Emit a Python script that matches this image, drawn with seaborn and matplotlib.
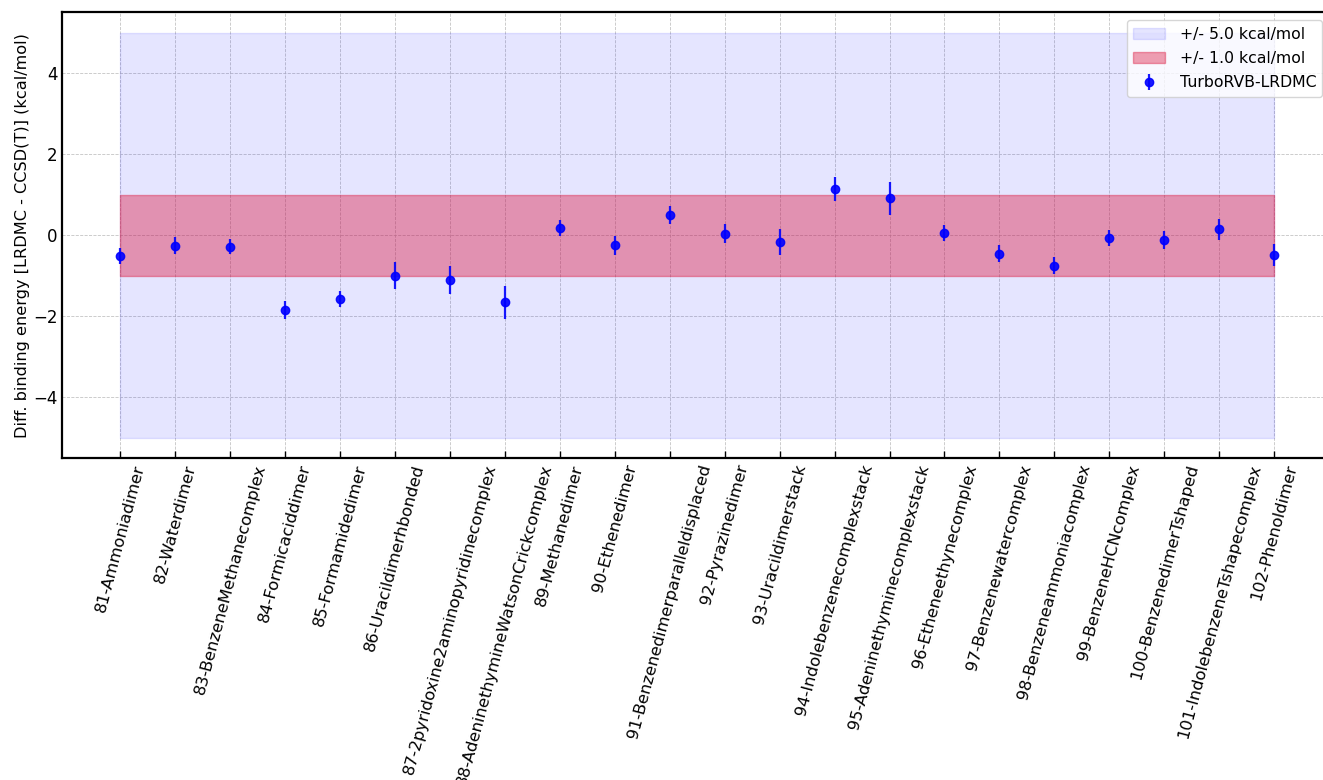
import matplotlib
matplotlib.use("Agg")
import matplotlib.pyplot as plt
import seaborn as sns
import numpy as np
import pandas as pd

systems = [
    "81-Ammoniadimer", "82-Waterdimer", "83-BenzeneMethanecomplex",
    "84-Formicaciddimer", "85-Formamidedimer", "86-Uracildimerhbonded",
    "87-2pyridoxine2aminopyridinecomplex", "88-AdeninethymineWatsonCrickcomplex",
    "89-Methanedimer", "90-Ethenedimer", "91-Benzenedimerparalleldisplaced",
    "92-Pyrazinedimer", "93-Uracildimerstack", "94-Indolebenzenecomplexstack",
    "95-Adeninethyminecomplexstack", "96-Etheneethynecomplex",
    "97-Benzenewatercomplex", "98-Benzeneammoniacomplex", "99-BenzeneHCNcomplex",
    "100-BenzenedimerTshaped", "101-IndolebenzeneTshapecomplex", "102-Phenoldimer",
]
diff = [-0.52, -0.26, -0.28, -1.85, -1.58, -1.00, -1.10, -1.66, 0.17, -0.25, 0.50,
        0.04, -0.17, 1.14, 0.91, 0.06, -0.46, -0.75, -0.06, -0.11, 0.15, -0.49]
err = [0.20, 0.21, 0.18, 0.23, 0.20, 0.33, 0.35, 0.40, 0.20, 0.23, 0.23,
       0.24, 0.33, 0.29, 0.40, 0.20, 0.21, 0.20, 0.20, 0.22, 0.26, 0.28]

df = pd.DataFrame({"system": systems, "diff": diff, "err": err})
df["x"] = np.arange(len(df))

sns.set_style("white", {"text.color": "black", "axes.labelcolor": "black",
                        "xtick.color": "black", "ytick.color": "black",
                        "axes.edgecolor": "black"})
plt.rcParams["font.family"] = ["DejaVu Sans"]

fig = plt.figure(figsize=(13.23, 7.8), dpi=100)
# axes runs slightly past the right edge of the figure, as in the original
ax = fig.add_axes([0.047, 0.413, 0.9585, 0.571])

x0, x1 = df["x"].min(), df["x"].max()
ax.fill_between([x0, x1], -5.0, 5.0, color="blue", alpha=0.1, label="+/- 5.0 kcal/mol")
ax.fill_between([x0, x1], -1.0, 1.0, color="crimson", alpha=0.4, label="+/- 1.0 kcal/mol")

ax.errorbar(df["x"], df["diff"], yerr=df["err"], fmt="o", color="blue", alpha=0.9,
            markersize=6, elinewidth=1.6, capsize=0, label="TurboRVB-LRDMC", zorder=3)

ax.set_xticks(df["x"])
ax.set_xticklabels(df["system"], rotation=75, ha="center", fontsize=11.8)
ax.set_xlim(-1.055, 22.02)
ax.set_ylim(-5.5, 5.5)
ax.set_yticks([-4, -2, 0, 2, 4])
ax.tick_params(axis="y", labelsize=12, direction="in", length=5, width=1)
ax.tick_params(axis="x", direction="in", length=5, width=1, bottom=True)
ax.set_ylabel("Diff. binding energy [LRDMC - CCSD(T)] (kcal/mol)", fontsize=11.6, labelpad=2)
ax.grid(True, linestyle="--", linewidth=0.6, color="#bdbdbd", alpha=0.9)
ax.set_axisbelow(True)
for s in ax.spines.values():
    s.set_linewidth(1.6)
    s.set_color("black")

ax.legend(loc="upper right", fontsize=11.3, framealpha=0.8, borderaxespad=0.5,
          handletextpad=0.95, labelspacing=0.6)

fig.savefig("out.png", dpi=100)
